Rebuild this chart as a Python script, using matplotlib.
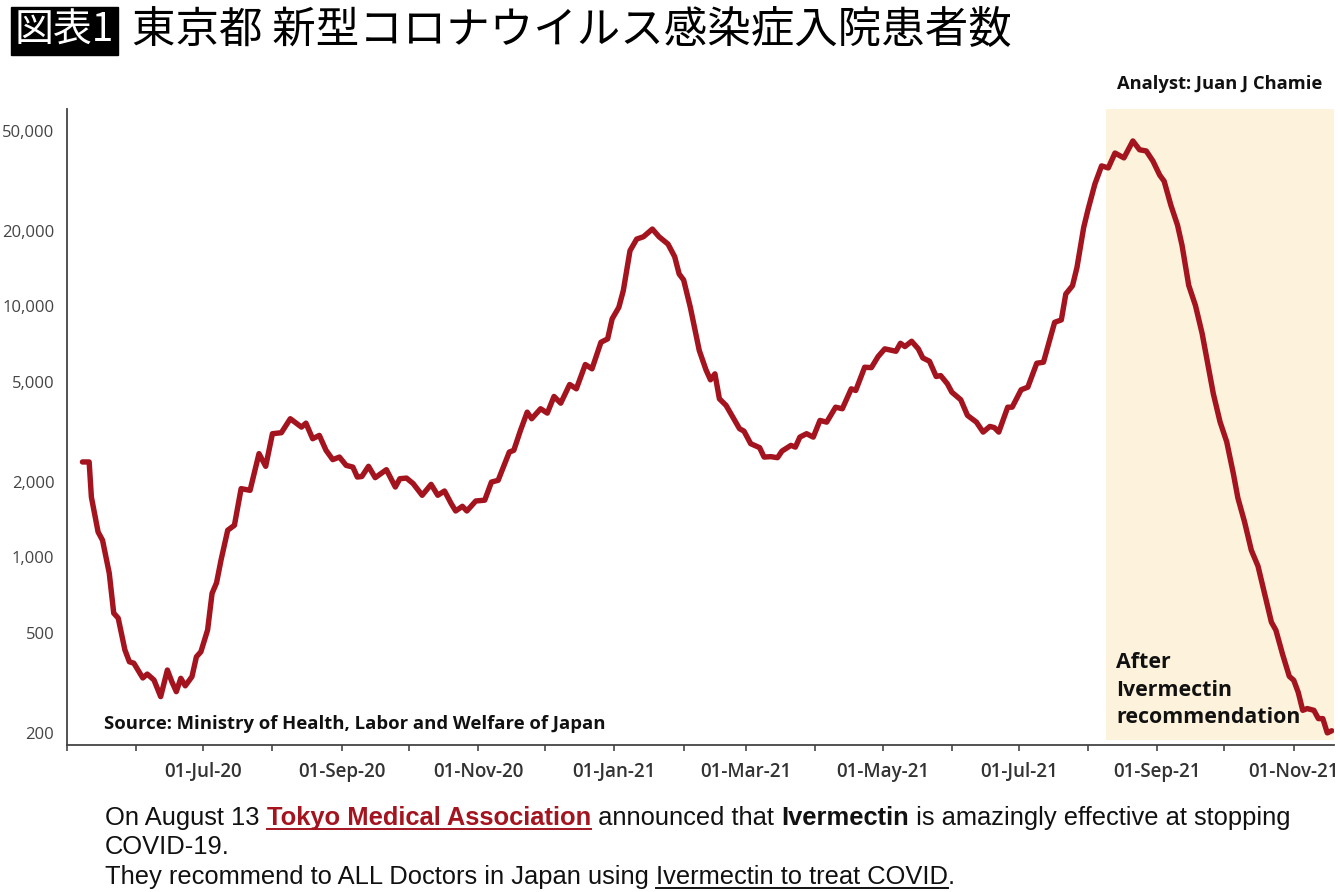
import matplotlib
matplotlib.use("Agg")
import matplotlib.pyplot as plt
from matplotlib.lines import Line2D
import pandas as pd

# Data: Tokyo COVID-19 hospitalised patients (log scale)
dates = [
    "2020-05-08", "2020-05-11", "2020-05-12", "2020-05-15", "2020-05-17", "2020-05-20", "2020-05-22", "2020-05-24", "2020-05-27", "2020-05-29", "2020-05-31",
    "2020-06-04", "2020-06-06", "2020-06-09", "2020-06-12", "2020-06-15", "2020-06-17", "2020-06-19", "2020-06-21", "2020-06-23", "2020-06-26", "2020-06-28", "2020-06-30",
    "2020-07-03", "2020-07-05", "2020-07-07", "2020-07-09", "2020-07-12", "2020-07-15", "2020-07-18", "2020-07-22", "2020-07-26", "2020-07-29",
    "2020-08-01", "2020-08-05", "2020-08-09", "2020-08-14", "2020-08-16", "2020-08-19", "2020-08-22", "2020-08-25", "2020-08-28", "2020-08-31",
    "2020-09-03", "2020-09-06", "2020-09-08", "2020-09-10", "2020-09-13", "2020-09-16", "2020-09-21", "2020-09-25", "2020-09-27", "2020-09-30",
    "2020-10-03", "2020-10-07", "2020-10-11", "2020-10-14", "2020-10-17", "2020-10-20", "2020-10-22", "2020-10-25", "2020-10-27", "2020-10-31",
    "2020-11-04", "2020-11-07", "2020-11-10", "2020-11-15", "2020-11-17", "2020-11-20", "2020-11-23", "2020-11-25", "2020-11-29",
    "2020-12-02", "2020-12-05", "2020-12-08", "2020-12-12", "2020-12-15", "2020-12-19", "2020-12-22", "2020-12-26", "2020-12-29", "2020-12-31",
    "2021-01-03", "2021-01-05", "2021-01-08", "2021-01-11", "2021-01-14", "2021-01-18", "2021-01-21", "2021-01-25", "2021-01-28", "2021-01-30",
    "2021-02-01", "2021-02-04", "2021-02-08", "2021-02-11", "2021-02-13", "2021-02-15", "2021-02-17", "2021-02-20", "2021-02-23", "2021-02-26", "2021-02-28",
    "2021-03-03", "2021-03-07", "2021-03-09", "2021-03-12", "2021-03-15", "2021-03-17", "2021-03-21", "2021-03-23", "2021-03-25", "2021-03-28", "2021-03-31",
    "2021-04-03", "2021-04-06", "2021-04-10", "2021-04-13", "2021-04-17", "2021-04-19", "2021-04-23", "2021-04-26", "2021-04-29",
    "2021-05-02", "2021-05-07", "2021-05-09", "2021-05-11", "2021-05-14", "2021-05-17", "2021-05-19", "2021-05-22", "2021-05-25", "2021-05-27", "2021-05-30",
    "2021-06-01", "2021-06-05", "2021-06-08", "2021-06-12", "2021-06-15", "2021-06-18", "2021-06-20", "2021-06-22", "2021-06-26", "2021-06-28",
    "2021-07-02", "2021-07-05", "2021-07-09", "2021-07-12", "2021-07-17", "2021-07-20", "2021-07-22", "2021-07-25", "2021-07-27", "2021-07-30",
    "2021-08-01", "2021-08-04", "2021-08-07", "2021-08-10", "2021-08-13", "2021-08-17", "2021-08-21", "2021-08-24", "2021-08-27", "2021-08-30",
    "2021-09-02", "2021-09-04", "2021-09-07", "2021-09-10", "2021-09-12", "2021-09-15", "2021-09-18", "2021-09-21", "2021-09-23", "2021-09-26", "2021-09-29",
    "2021-10-02", "2021-10-05", "2021-10-07", "2021-10-10", "2021-10-13", "2021-10-16", "2021-10-19", "2021-10-22", "2021-10-24", "2021-10-27", "2021-10-30",
    "2021-11-01", "2021-11-03", "2021-11-05", "2021-11-07", "2021-11-10", "2021-11-12", "2021-11-14", "2021-11-16", "2021-11-18",
]
patients = [
    2400, 2400, 1740, 1263, 1170, 865, 600, 573, 428, 384, 379,
    331, 343, 325, 279, 356, 320, 292, 330, 308, 335, 402, 421,
    514, 719, 792, 975, 1283, 1343, 1879, 1850, 2590, 2306,
    3110, 3138, 3568, 3304, 3426, 2970, 3062, 2670, 2452, 2510,
    2326, 2290, 2090, 2100, 2306, 2078, 2236, 1907, 2058, 2070,
    1967, 1768, 1954, 1768, 1839, 1638, 1531, 1598, 1531, 1678,
    1690, 1996, 2028, 2628, 2670, 3206, 3790, 3568, 3910,
    3756, 4376, 4114, 4884, 4694, 5866, 5638, 7194, 7422, 8912,
    9910, 11546, 16656, 18536, 18930, 20320, 18930, 17706, 15760, 13454,
    12736, 9910, 6668, 5586, 5098, 5386, 4284, 4030, 3620, 3256, 3184,
    2838, 2736, 2510, 2520, 2496, 2652, 2794, 2750, 3014, 3110, 3014,
    3512, 3458, 3966, 3910, 4694, 4622, 5722, 5700, 6310,
    6772, 6624, 7128, 6916, 7260, 6772, 6234, 6044, 5256, 5300, 4916,
    4552, 4246, 3678, 3458, 3156, 3324, 3290, 3156, 3966, 3966,
    4652, 4766, 5936, 5990, 8638, 8830, 11202, 12088, 14292, 20620,
    24400, 30680, 36260, 35600, 40800, 39020, 45580, 42040, 41580, 37880,
    33340, 31520, 25300, 21040, 17514, 12120, 10084, 7796, 6252, 4490, 3470,
    2886, 2150, 1724, 1383, 1069, 923, 713, 552, 513, 411, 336,
    324, 290, 246, 250, 246, 228, 228, 200, 204,
]

y_ticks = [200, 500, 1000, 2000, 5000, 10000, 20000, 50000]
y_labels = ["200", "500", "1,000", "2,000", "5,000", "10,000", "20,000", "50,000"]
x_labels = ["01-Jul-20", "01-Sep-20", "01-Nov-20", "01-Jan-21", "01-Mar-21",
            "01-May-21", "01-Jul-21", "01-Sep-21", "01-Nov-21"]
shade_start, shade_end = "2021-08-09", "2021-11-19"

LINE_RED = "#A3141F"
SHADE = "#FDF3DC"
CHART_FONT = "Open Sans"

W, H = 1340, 892
fig = plt.figure(figsize=(W / 100, H / 100), dpi=100)
ax = fig.add_axes([66.8 / W, (H - 745) / H, (1334 - 66.8) / W, (745 - 109) / H])

x = pd.to_datetime(dates)
ax.axvspan(pd.Timestamp(shade_start), pd.Timestamp(shade_end), ymin=0.008, ymax=1,
           color=SHADE, lw=0, zorder=0)
ax.plot(x, patients, color=LINE_RED, lw=3.9, solid_joinstyle="round",
        solid_capstyle="round", zorder=3)

ax.set_yscale("log")
ax.set_ylim(179, 61100)
ax.set_xlim(pd.Timestamp("2020-05-01"), pd.Timestamp(shade_end))
ax.yaxis.set_minor_locator(matplotlib.ticker.NullLocator())
ax.set_yticks(y_ticks)
ax.set_yticklabels(y_labels, fontfamily=CHART_FONT, fontsize=12, color="#444444")
ax.tick_params(axis="y", length=0, pad=9)

months = pd.date_range("2020-05-01", "2021-11-01", freq="MS")
ax.set_xticks(months)
ax.set_xticklabels([m.strftime("%d-%b-%y") if m.strftime("%d-%b-%y") in x_labels else ""
                    for m in months],
                   fontfamily=CHART_FONT, fontsize=13.5, fontweight="semibold", color="#333333")
ax.tick_params(axis="x", length=4, width=1.3, color="#555555", pad=8)

for side in ["top", "right"]:
    ax.spines[side].set_visible(False)
for side in ["left", "bottom"]:
    ax.spines[side].set_color("#444444")
    ax.spines[side].set_linewidth(1.3)

ax.text(0.0295, 0.033, "Source: Ministry of Health, Labor and Welfare of Japan",
        transform=ax.transAxes, fontfamily=CHART_FONT, fontsize=13.3, fontweight="bold",
        color="#111111", va="center")
ax.text(1116 / W, (H - 690) / H, "After\nIvermectin\nrecommendation", transform=fig.transFigure,
        fontfamily=CHART_FONT, fontsize=15.4, fontweight="bold", color="#111111",
        va="center", ha="left", linespacing=1.4)
fig.text(1322 / W, (H - 84) / H, "Analyst: Juan J Chamie", fontfamily=CHART_FONT,
         fontsize=13.2, fontweight="bold", color="#111111", ha="right", va="center")

# Title
CJK = ["Noto Sans CJK JP", "DejaVu Sans"]
fig.text(15 / W, (H - 31) / H, "図表1", family=CJK, fontsize=28,
         color="white", va="center", ha="left",
         bbox=dict(facecolor="black", edgecolor="black", boxstyle="square,pad=0.1"))
fig.text(132 / W, (H - 31) / H, "東京都 新型コロナウイルス感染症入院患者数", family=CJK,
         fontsize=31.3, color="black", va="center", ha="left")

# Bottom rich text
renderer = fig.canvas.get_renderer()


def advance(s, props):
    a = fig.text(0, 0, "|" + s + "|", **props)
    b = fig.text(0, 0, "||", **props)
    w = a.get_window_extent(renderer).width - b.get_window_extent(renderer).width
    a.remove()
    b.remove()
    return w


def rich_line(x0, y0, parts):
    xp = x0
    for s, props, under in parts:
        p = dict(fontfamily="Liberation Sans", fontsize=18.4, color="#111111")
        p.update(props)
        fig.text(xp / W, (H - y0) / H, s, va="baseline", ha="left", **p)
        w = advance(s, p)
        if under:
            yl = (H - y0 - 4) / H
            fig.add_artist(Line2D([xp / W, (xp + w) / W], [yl, yl], color=p["color"],
                                  lw=1.4, transform=fig.transFigure))
        xp += w


rich_line(105, 825, [
    ("On August 13 ", {}, False),
    ("Tokyo Medical Association", {"fontweight": "bold", "color": "#A3141F"}, True),
    (" announced that ", {}, False),
    ("Ivermectin", {"fontweight": "bold"}, False),
    (" is amazingly effective at stopping", {}, False),
])
rich_line(105, 854, [("COVID-19.", {}, False)])
rich_line(105, 884, [
    ("They recommend to ALL Doctors in Japan using ", {}, False),
    ("Ivermectin to treat COVID", {}, True),
    (".", {}, False),
])

fig.savefig("out.png", dpi=100)
